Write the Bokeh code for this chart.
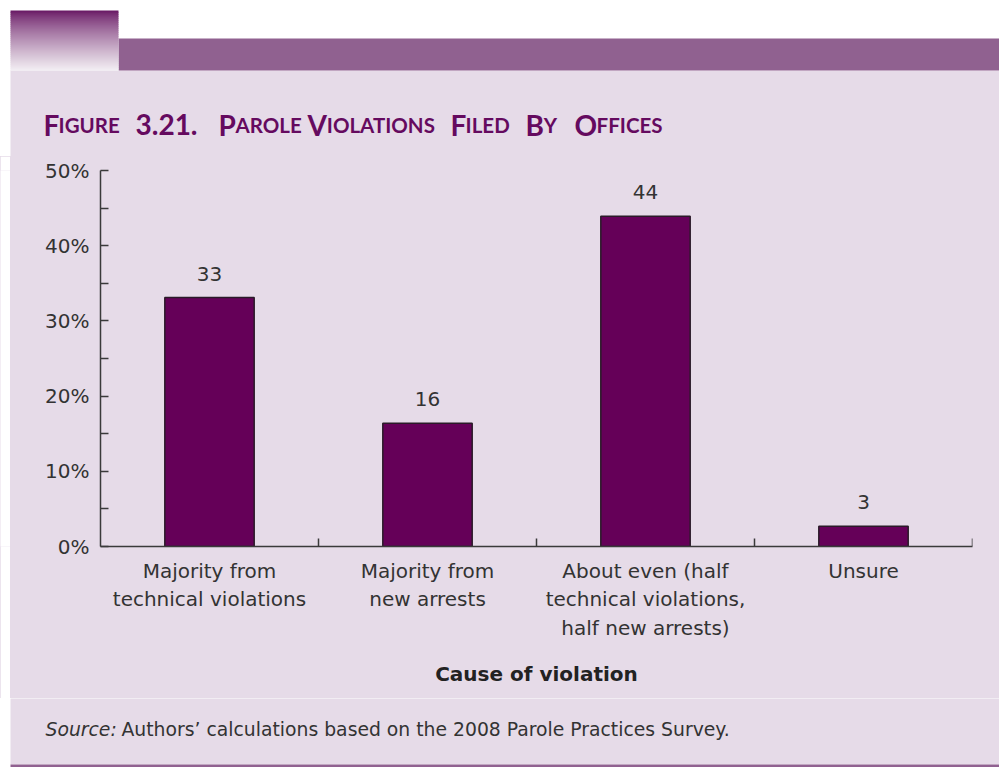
from bokeh.plotting import figure
from bokeh.layouts import column, row
from bokeh.models import Range1d, FactorRange, LinearAxis, CategoricalAxis, FixedTicker
from bokeh.embed import file_html
from bokeh.resources import INLINE
from bokeh.core.properties import value

# ---------------- data ----------------
categories = [
    "Majority from\ntechnical violations",
    "Majority from\nnew arrests",
    "About even (half\ntechnical violations,\nhalf new arrests)",
    "Unsure",
]
values = [33.1, 16.4, 43.9, 2.7]
value_labels = ["33", "16", "44", "3"]
y_ticks = [0, 10, 20, 30, 40, 50]
y_tick_labels = ["0%", "10%", "20%", "30%", "40%", "50%"]
y_minor_ticks = [5, 15, 25, 35, 45]
x_axis_title = "Cause of violation"
source_lead = "Source:"
source_text = "Authors\u2019 calculations based on the 2008 Parole Practices Survey."
title_big = ["F", "3.21.", "P", "V", "F", "B", "O"]
title_small = ["IGURE", "", "AROLE", "IOLATIONS", "ILED", "Y", "FFICES"]

# ---------------- style ----------------
FONT = "DejaVu Sans"
TFONT = "Lato"
LAV = "#e6dbe8"
BAND = "#906190"
PURPLE = "#650a5f"
BAR = "#650058"
AX = "#3a3a3a"
TXT = "#333333"

W = 999
H_HEAD, H_MAIN, H_FOOT = 156, 542, 69
LEFT_PAD = 10
n = len(categories)
Y_MAX = 50


def canvas_fig(width, height):
    f = figure(width=width, height=height, title=None,
               x_range=Range1d(0, width), y_range=Range1d(height, 0),
               x_axis_location=None, y_axis_location=None,
               output_backend="svg", toolbar_location=None, min_border=0,
               background_fill_color="white", border_fill_color="white",
               outline_line_color=None)
    f.grid.visible = False
    return f


# ---------------- header ----------------
head = canvas_fig(W, H_HEAD)
head.quad(left=[LEFT_PAD], right=[W], top=[70], bottom=[H_HEAD + 1], fill_color=LAV, line_color=None)
head.quad(left=[118], right=[W], top=[38], bottom=[70], fill_color=BAND, line_color=None)
c0 = (0x6b, 0x1c, 0x67)
c1 = (0xf1, 0xec, 0xf2)
steps = 30
g_top, g_bot, g_col = [], [], []
for i in range(steps):
    t = (i / (steps - 1)) ** 0.8
    g_col.append("#%02x%02x%02x" % tuple(int(round(a + (b - a) * t)) for a, b in zip(c0, c1)))
    g_top.append(10 + 60 * i / steps)
    g_bot.append(10 + 60 * (i + 1) / steps + 0.4)
head.quad(left=[LEFT_PAD] * steps, right=[118] * steps, top=g_top, bottom=g_bot,
          fill_color=g_col, line_color=None)

word_starts = [43, 135, 218, 307, 450, 525, 574]
init_w = {"F": 0.54, "P": 0.61, "V": 0.69, "B": 0.65, "O": 0.79}
BIG, SMALL = 28, 20.5
head.text(x=word_starts, y=[124] * len(word_starts), text=title_big,
          text_font=value(TFONT), text_font_style="bold", text_font_size=f"{BIG}px",
          text_color=PURPLE, text_baseline="alphabetic", text_align="left")
sx = [x0 + init_w.get(b, 0.6) * BIG for b, x0 in zip(title_big, word_starts)]
head.text(x=sx, y=[124] * len(sx), text=title_small,
          text_font=value(TFONT), text_font_style="bold", text_font_size=f"{SMALL}px",
          text_color=PURPLE, text_baseline="alphabetic", text_align="left")

# ---------------- main chart ----------------
BT = 170 - H_HEAD
BB = H_MAIN - BT - 376
BL, BR = 90, 27
p = figure(width=W - LEFT_PAD, height=H_MAIN, title=None,
           x_range=FactorRange(factors=categories, range_padding=0),
           y_range=Range1d(0, Y_MAX),
           x_axis_location=None, y_axis_location=None,
           output_backend="svg", toolbar_location=None,
           min_border_left=BL, min_border_right=BR,
           min_border_top=BT, min_border_bottom=BB,
           background_fill_color=LAV, border_fill_color=None,
           outline_line_color=None, styles={"background-color": LAV})
p.grid.visible = False

yaxis = LinearAxis(ticker=FixedTicker(ticks=y_ticks, minor_ticks=y_minor_ticks),
                   major_label_overrides=dict(zip(y_ticks, y_tick_labels)),
                   major_tick_in=8, major_tick_out=0, minor_tick_in=8, minor_tick_out=0,
                   axis_line_color=AX, axis_line_width=1.5,
                   major_tick_line_color=AX, major_tick_line_width=1.5,
                   minor_tick_line_color=AX, minor_tick_line_width=1.5,
                   major_label_standoff=11,
                   major_label_text_font=FONT, major_label_text_font_size="20px",
                   major_label_text_color=TXT)
p.add_layout(yaxis, "left")

xaxis = CategoricalAxis(major_tick_in=0, major_tick_out=0,
                        axis_line_color=AX, axis_line_width=1.5,
                        major_label_standoff=12,
                        major_label_text_font=FONT, major_label_text_font_size="20px",
                        major_label_text_color=TXT, major_label_text_line_height=1.2,
                        axis_label=x_axis_title, axis_label_standoff=19,
                        axis_label_text_font=FONT, axis_label_text_font_style="bold",
                        axis_label_text_font_size="20px", axis_label_text_color="#222222")
p.add_layout(xaxis, "below")

# category boundary ticks (8 px tall, pointing up from the x axis)
frame_h = H_MAIN - BT - BB
tick_len = 8 * Y_MAX / frame_h
p.segment(x0=[(c, 0.5) for c in categories], x1=[(c, 0.5) for c in categories],
          y0=[0] * n, y1=[tick_len] * n, line_color=AX, line_width=1.5)

p.vbar(x=categories, top=values, width=0.41, fill_color=BAR,
       line_color="#2a1a28", line_width=1.5)
p.text(x=categories, y=values, text=value_labels, text_font=value(FONT),
       text_font_size="20px", text_align="center", text_baseline="alphabetic",
       y_offset=-24, text_color=TXT)

spacer = canvas_fig(LEFT_PAD, H_MAIN)

# ---------------- footer ----------------
foot = canvas_fig(W, H_FOOT)
foot.quad(left=[LEFT_PAD], right=[W], top=[-1], bottom=[66], fill_color=LAV, line_color=None)
foot.quad(left=[LEFT_PAD], right=[W], top=[66], bottom=[69], fill_color=BAND, line_color=None)
foot.text(x=[45], y=[31], text=[source_lead], text_font=value(FONT), text_font_style="italic",
          text_font_size="18.8px", text_color=TXT, text_baseline="alphabetic")
foot.text(x=[121], y=[31], text=[source_text], text_font=value(FONT),
          text_font_size="18.8px", text_color=TXT, text_baseline="alphabetic")

main_row = row(spacer, p, spacing=0, styles={"background-color": LAV})
layout = column(head, main_row, foot, spacing=0)
open("out.html", "w").write(file_html(layout, INLINE))
